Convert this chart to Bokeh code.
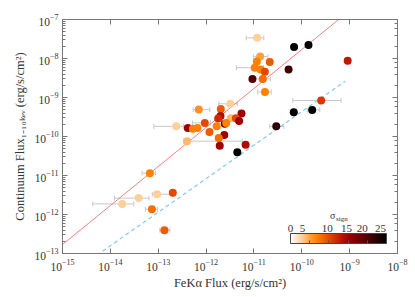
import numpy as np
from bokeh.plotting import figure
from bokeh.models import (ColumnDataSource, LinearColorMapper, ColorBar, Whisker, TeeHead,
                          LogAxis, FixedTicker, Label, Range1d)
from bokeh.embed import file_html
from bokeh.resources import INLINE

nan = float("nan")
# ---- data -------------------------------------------------------------
fe_flux = [1.17e-11, 1.35e-11, 1.15e-11, 2.14e-11, 1.04e-11, 1.37e-11, 1.69e-11, 9.3e-12,
           1.53e-11, 1.70e-11, 3.19e-12, 7.05e-13, 2.03e-12, 5.5e-12, 2.0e-12, 1.79e-12,
           3.28e-12, 4.2e-12, 9.4e-13, 2.46e-12, 2.63e-12, 4.9e-12, 2.38e-13, 4.15e-13,
           5.3e-13, 6.6e-13, 1.67e-12, 1.18e-12, 2.4e-12, 1.84e-12, 4.0e-13, 1.93e-12,
           6.7e-12, 2.93e-11, 4.5e-12, 6.9e-11, 1.38e-10, 5.3e-11, 9.1e-10, 2.54e-10,
           6.8e-11, 1.65e-10, 6.7e-14, 2.02e-13, 9.5e-14, 3.9e-14, 7.4e-14, 1.35e-13, 1.77e-14]
cont_flux = [3.38e-8, 1.12e-8, 8.4e-9, 8.1e-9, 5.8e-9, 5.2e-9, 4.6e-9, 3.0e-9,
             3.0e-9, 1.39e-9, 6.9e-10, 4.9e-10, 5.1e-10, 3.87e-10, 3.33e-10, 2.9e-10,
             2.93e-10, 2.93e-10, 2.23e-10, 2.13e-10, 2.22e-10, 2.49e-10, 1.82e-10, 1.64e-10,
             1.59e-10, 1.66e-10, 1.82e-10, 1.31e-10, 1.10e-10, 9.1e-11, 7.6e-11, 5.8e-11,
             6.1e-11, 1.82e-10, 3.95e-11, 1.97e-8, 2.21e-8, 5.2e-9, 8.7e-9, 8.4e-10,
             4.2e-10, 4.8e-10, 1.15e-11, 3.6e-12, 3.3e-12, 2.63e-12, 1.36e-12, 3.96e-13, 1.87e-12]
sigma = [3, 5, 7, 9, 7, 7, 10, 20,
         8, 7, 3, 6, 9, 15, 14, 12,
         4, 10, 10, 18, 7, 15, 3, 15,
         7, 7, 7, 9, 15, 8, 4, 15,
         14, 22, 25, 25, 25, 21, 13, 11,
         25, 25, 7, 10, 3, 3, 8, 9, 3]
fe_lo = [6.9e-12, 9.7e-12, nan, nan, 4.3e-12, nan, nan, nan,
         1.03e-11, 1.2e-11, 1.85e-12, 5.4e-13, nan, nan, nan, nan,
         nan, nan, 5.2e-13, nan, nan, nan, 8.1e-14, nan,
         nan, nan, nan, nan, nan, nan, 3.4e-13, nan,
         nan, 2.14e-11, nan, nan, nan, nan, nan, 6.5e-11,
         nan, 1.3e-10, 4.6e-14, nan, 7.5e-14, 1.22e-14, 5.4e-14, 1.08e-13, 4.3e-15]
fe_hi = [1.61e-11, 1.95e-11, nan, nan, 1.58e-11, nan, nan, nan,
         2.22e-11, 2.3e-11, 4.5e-12, 1.2e-12, nan, nan, nan, nan,
         nan, nan, 1.24e-12, nan, nan, nan, 3.4e-13, nan,
         nan, nan, nan, nan, nan, nan, 5.7e-12, nan,
         nan, 4.2e-11, nan, nan, nan, nan, nan, 6.6e-10,
         nan, 2.38e-10, 8.8e-14, nan, 1.96e-13, 6.4e-14, 9.7e-14, 1.75e-13, 3.1e-14]

# fits: log10(cont) = slope*log10(fe) + intercept
red_slope, red_icpt = 1.0, 2.23
blue_slope, blue_icpt = 0.86, -0.762
blue_xmax = 8.1e-10

sigma_ticks = [0, 5, 10, 15, 20, 25]

# ---- palette (white -> orange -> red -> black) --------------------------
stops = [(0, (255, 255, 255)), (3, (253, 206, 152)), (5, (255, 160, 64)), (7, (255, 128, 0)),
         (10, (228, 72, 0)), (13, (192, 24, 0)), (15, (160, 0, 0)), (20, (80, 0, 0)), (25, (0, 0, 0))]
sv = np.linspace(0, 25, 256)
sp = np.array([s[0] for s in stops])
cols = np.array([s[1] for s in stops], dtype=float)
palette = ["#%02x%02x%02x" % tuple(int(round(np.interp(v, sp, cols[:, k]))) for k in range(3)) for v in sv]
mapper = LinearColorMapper(palette=palette, low=0, high=25)

TXT = "#333333"
AX = "#777777"
FONT = "Liberation Serif"

p = figure(width=412, height=292, x_axis_type="log", y_axis_type="log",
           x_range=Range1d(1e-15, 1e-8), y_range=Range1d(1e-13, 1e-7),
           output_backend="svg", toolbar_location=None,
           min_border_left=62, min_border_right=15, min_border_top=19, min_border_bottom=35)
p.grid.visible = False
p.outline_line_color = AX

# fit lines
lx = np.linspace(-15, -8, 50)
p.line(10 ** lx, 10 ** (red_slope * lx + red_icpt), line_color="#f08080", line_width=1)
lb = np.linspace(-15, np.log10(blue_xmax), 50)
p.line(10 ** lb, 10 ** (blue_slope * lb + blue_icpt), line_color="#87c8f0", line_width=1.2,
       line_dash="4 3")

# error bars
ok = [i for i in range(len(fe_flux)) if not np.isnan(fe_lo[i])]
esrc = ColumnDataSource(dict(y=[cont_flux[i] for i in ok], lo=[fe_lo[i] for i in ok],
                             hi=[fe_hi[i] for i in ok]))
w = Whisker(source=esrc, base="y", lower="lo", upper="hi", dimension="width",
            line_color="#c8c8c8", line_width=1,
            lower_head=TeeHead(size=5, line_color="#c8c8c8", line_width=1),
            upper_head=TeeHead(size=5, line_color="#c8c8c8", line_width=1))
p.add_layout(w)

src = ColumnDataSource(dict(x=fe_flux, y=cont_flux, s=sigma))
p.scatter("x", "y", source=src, size=8, line_color=None,
          fill_color={"field": "s", "transform": mapper})

# axes styling
for ax in [p.xaxis[0], p.yaxis[0]]:
    ax.axis_line_color = AX
    ax.major_tick_line_color = AX
    ax.minor_tick_line_color = AX
    ax.major_tick_in = 5
    ax.major_tick_out = 0
    ax.minor_tick_in = 3
    ax.minor_tick_out = 0
    ax.major_label_text_font = FONT
    ax.major_label_text_font_size = "11.5px"
    ax.major_label_text_color = TXT
    ax.axis_label_text_font = FONT
    ax.axis_label_text_font_size = "12.5px"
    ax.axis_label_text_font_style = "normal"
    ax.axis_label_text_color = TXT
p.xaxis[0].minor_tick_line_color = None
p.xaxis[0].major_label_standoff = 5
p.yaxis[0].major_label_standoff = 4
p.xaxis[0].axis_label = "FeKα Flux (erg/s/cm²)"
p.yaxis[0].axis_label = "Continuum Flux₁₋₁₀ₖₑᵥ (erg/s/cm²)"
p.xaxis[0].axis_label_standoff = 2
p.yaxis[0].axis_label_standoff = 4

top = LogAxis(major_label_text_font_size="1px", major_label_text_alpha=0, axis_line_color=AX,
              major_tick_line_color=AX, minor_tick_line_color=None, major_tick_in=5, major_tick_out=0,
              major_label_standoff=0)
right = LogAxis(major_label_text_font_size="1px", major_label_text_alpha=0, axis_line_color=AX,
                major_tick_line_color=AX, minor_tick_line_color=AX, major_tick_in=5, major_tick_out=0,
                minor_tick_in=3, minor_tick_out=0, major_label_standoff=0)
p.add_layout(top, "above")
p.add_layout(right, "right")

# colour bar
cb = ColorBar(color_mapper=mapper, orientation="horizontal", location=(228, 10),
              width=96, height=10, padding=0, margin=0,
              ticker=FixedTicker(ticks=sigma_ticks), major_label_text_font_size="1px",
              major_label_text_alpha=0, label_standoff=0,
              major_tick_line_color="#555555", major_tick_in=3, major_tick_out=0,
              bar_line_color="#444444", background_fill_alpha=0, border_line_color=None)
p.add_layout(cb, "center")

lab_x = [228, 240, 264.7, 284, 299.7, 318]
for t, xx in zip(sigma_ticks, lab_x):
    p.add_layout(Label(x=xx, y=22, x_units="screen", y_units="screen", text=str(t),
                       text_font=FONT, text_font_size="11px", text_color=TXT,
                       text_align="center", text_baseline="bottom"))
p.add_layout(Label(x=273, y=33, x_units="screen", y_units="screen", text="σ",
                   text_font=FONT, text_font_size="10px", text_color=TXT,
                   text_align="right", text_baseline="bottom"))
p.add_layout(Label(x=273.5, y=31, x_units="screen", y_units="screen", text="sign",
                   text_font=FONT, text_font_size="7px", text_color=TXT,
                   text_align="left", text_baseline="bottom"))

open("out.html", "w").write(file_html(p, INLINE))
